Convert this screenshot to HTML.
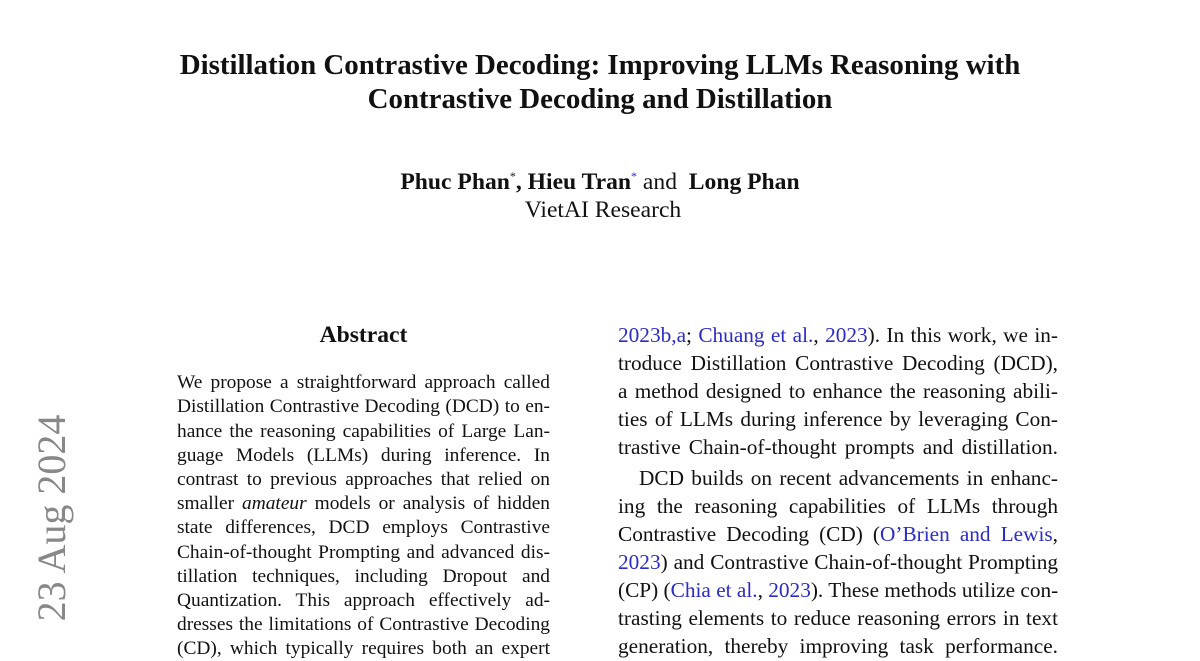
<!DOCTYPE html>
<html><head><meta charset="utf-8"><style>
body{margin:0;width:1200px;height:648px;background:#fff;overflow:hidden;position:relative;font-family:"Liberation Serif",serif;color:#111}
.l{position:absolute;white-space:nowrap;text-align:justify;text-align-last:justify}
.a{left:177px;width:373px;font-size:19.4px;line-height:24px}
.b{left:618px;width:440px;font-size:21.3px;line-height:28px}
.c{position:absolute;left:0;width:1200px;text-align:center;white-space:nowrap}
a,.k{color:#2b2bc8;text-decoration:none}
</style></head><body>
<div class="c" style="top:48px;font-size:28.9px;font-weight:bold;line-height:34px">Distillation Contrastive Decoding: Improving LLMs Reasoning with<br>Contrastive Decoding and Distillation</div>
<div class="c" style="top:162px;font-size:23.6px;line-height:28px"><b>Phuc Phan</b><sup style="font-size:12px">*</sup><b>, Hieu Tran</b><sup class="k" style="font-size:12px">*</sup> and &nbsp;<b>Long Phan</b></div>
<div class="c" style="top:196px;font-size:23.6px;line-height:28px;left:3px">VietAI Research</div>
<div style="position:absolute;left:177px;width:373px;top:321px;text-align:center;font-size:23.6px;font-weight:bold;line-height:28px">Abstract</div>

<div class="l a" style="top:371px">We propose a straightforward approach called</div>
<div class="l a" style="top:395px">Distillation Contrastive Decoding (DCD) to en-</div>
<div class="l a" style="top:420px">hance the reasoning capabilities of Large Lan-</div>
<div class="l a" style="top:444px">guage Models (LLMs) during inference. In</div>
<div class="l a" style="top:468px">contrast to previous approaches that relied on</div>
<div class="l a" style="top:492px">smaller <i>amateur</i> models or analysis of hidden</div>
<div class="l a" style="top:516px">state differences, DCD employs Contrastive</div>
<div class="l a" style="top:541px">Chain-of-thought Prompting and advanced dis-</div>
<div class="l a" style="top:565px">tillation techniques, including Dropout and</div>
<div class="l a" style="top:589px">Quantization. This approach effectively ad-</div>
<div class="l a" style="top:613px">dresses the limitations of Contrastive Decoding</div>
<div class="l a" style="top:637px">(CD), which typically requires both an expert</div>

<div class="l b" style="top:321px"><a>2023b,a</a>; <a>Chuang et al.</a>, <a>2023</a>). In this work, we in-</div>
<div class="l b" style="top:349px">troduce Distillation Contrastive Decoding (DCD),</div>
<div class="l b" style="top:377px">a method designed to enhance the reasoning abili-</div>
<div class="l b" style="top:405px">ties of LLMs during inference by leveraging Con-</div>
<div class="l b" style="top:433px">trastive Chain-of-thought prompts and distillation.</div>
<div class="l b" style="top:464px;left:639px;width:419px">DCD builds on recent advancements in enhanc-</div>
<div class="l b" style="top:492px">ing the reasoning capabilities of LLMs through</div>
<div class="l b" style="top:520px">Contrastive Decoding (CD) (<a>O’Brien and Lewis</a>,</div>
<div class="l b" style="top:548px"><a>2023</a>) and Contrastive Chain-of-thought Prompting</div>
<div class="l b" style="top:576px">(CP) (<a>Chia et al.</a>, <a>2023</a>). These methods utilize con-</div>
<div class="l b" style="top:604px">trasting elements to reduce reasoning errors in text</div>
<div class="l b" style="top:632px">generation, thereby improving task performance.</div>

<div style="position:absolute;left:52px;top:518px;transform:translate(-50%,-50%) rotate(-90deg);font-size:40px;color:#888;white-space:nowrap;line-height:40px">23 Aug 2024</div>
</body></html>
